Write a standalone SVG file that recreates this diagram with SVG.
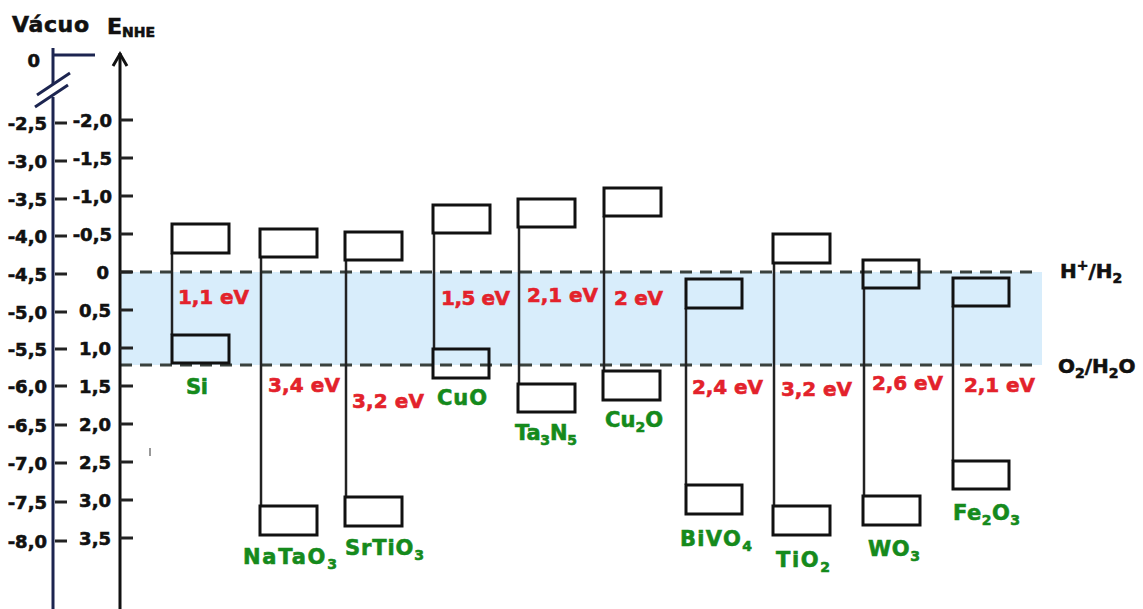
<svg xmlns="http://www.w3.org/2000/svg" width="1143" height="609" viewBox="0 0 1143 609">
<style>
text{font-family:"DejaVu Sans","Liberation Sans",sans-serif;font-weight:bold;stroke-width:0.6}
.ax{font-size:18px;fill:#111;stroke:#111;text-anchor:end}
.ttl{font-size:22px;fill:#111;stroke:#111}
.gap{font-size:20px;fill:#e3222b;stroke:#e3222b}
.mat{font-size:21px;fill:#158a1c;stroke:#158a1c}
.ref{font-size:20px;fill:#111;stroke:#111}
.box{fill:none;stroke:#111;stroke-width:3}
.vl{stroke:#222;stroke-width:2.5}
.tk{stroke:#222;stroke-width:3}
.va{stroke:#1c2550;stroke-width:3;fill:none}
.dash{stroke:#39413d;stroke-width:3;stroke-dasharray:12 8}
.sub{font-size:14px}
</style>
<rect width="1143" height="609" fill="#fff"/>
<g id="band">
<rect x="120" y="272" width="922" height="93" fill="#d8edfb"/>
<line class="dash" x1="120" y1="272" x2="1040" y2="272"/>
<line class="dash" x1="120" y1="365" x2="1040" y2="365"/>
<text class="ref" x="1060" y="278">H<tspan class="sub" dy="-8">+</tspan><tspan dy="8">/H</tspan><tspan class="sub" dy="5">2</tspan></text>
<text class="ref" x="1058" y="373">O<tspan class="sub" dy="5">2</tspan><tspan dy="-5">/H</tspan><tspan class="sub" dy="5">2</tspan><tspan dy="-5">O</tspan></text>
</g>
<g id="vacuum-axis">
<text class="ttl" x="12" y="32" textLength="77">Vácuo</text>
<line class="va" x1="53" y1="48" x2="53" y2="84"/>
<line class="va" x1="53" y1="97" x2="53" y2="609"/>
<line class="va" x1="53" y1="55" x2="95" y2="55"/>
<line class="va" x1="37" y1="95" x2="70" y2="73"/>
<line class="va" x1="35" y1="107" x2="68" y2="85"/>
<text class="ax" x="40" y="67">0</text>
<g class="tk">
<line x1="55" y1="123" x2="67" y2="123"/><line x1="55" y1="161" x2="67" y2="161"/>
<line x1="55" y1="199" x2="67" y2="199"/><line x1="55" y1="236" x2="67" y2="236"/>
<line x1="55" y1="274" x2="67" y2="274"/><line x1="55" y1="312" x2="67" y2="312"/>
<line x1="55" y1="349" x2="67" y2="349"/><line x1="55" y1="386" x2="67" y2="386"/>
<line x1="55" y1="425" x2="67" y2="425"/><line x1="55" y1="463" x2="67" y2="463"/>
<line x1="55" y1="502" x2="67" y2="502"/><line x1="55" y1="541" x2="67" y2="541"/>
</g>
<text class="ax" x="47" y="130">-2,5</text>
<text class="ax" x="47" y="168">-3,0</text>
<text class="ax" x="47" y="206">-3,5</text>
<text class="ax" x="47" y="243">-4,0</text>
<text class="ax" x="47" y="281">-4,5</text>
<text class="ax" x="47" y="319">-5,0</text>
<text class="ax" x="47" y="356">-5,5</text>
<text class="ax" x="47" y="393">-6,0</text>
<text class="ax" x="47" y="432">-6,5</text>
<text class="ax" x="47" y="470">-7,0</text>
<text class="ax" x="47" y="509">-7,5</text>
<text class="ax" x="47" y="548">-8,0</text>
</g>
<g id="nhe-axis">
<text class="ttl" x="107" y="34">E<tspan class="sub" dy="3">NHE</tspan></text>
<line x1="120" y1="53" x2="120" y2="609" stroke="#111" stroke-width="3"/>
<polyline points="113,66 120,54 127,66" fill="none" stroke="#111" stroke-width="3"/>
<g class="tk">
<line x1="120" y1="120" x2="133" y2="120"/><line x1="120" y1="158" x2="133" y2="158"/>
<line x1="120" y1="196" x2="133" y2="196"/><line x1="120" y1="234" x2="133" y2="234"/>
<line x1="120" y1="272" x2="133" y2="272"/><line x1="120" y1="310" x2="133" y2="310"/>
<line x1="120" y1="348" x2="133" y2="348"/><line x1="120" y1="386" x2="133" y2="386"/>
<line x1="120" y1="424" x2="133" y2="424"/><line x1="120" y1="462" x2="133" y2="462"/>
<line x1="120" y1="500" x2="133" y2="500"/><line x1="120" y1="538" x2="133" y2="538"/>
</g>
<text class="ax" x="112" y="127">-2,0</text>
<text class="ax" x="112" y="165">-1,5</text>
<text class="ax" x="112" y="203">-1,0</text>
<text class="ax" x="112" y="241">-0,5</text>
<text class="ax" x="109" y="279">0</text>
<text class="ax" x="111" y="317">0,5</text>
<text class="ax" x="111" y="355">1,0</text>
<text class="ax" x="111" y="393">1,5</text>
<text class="ax" x="111" y="431">2,0</text>
<text class="ax" x="111" y="469">2,5</text>
<text class="ax" x="111" y="507">3,0</text>
<text class="ax" x="111" y="545">3,5</text>
<line x1="150" y1="448" x2="150" y2="456" stroke="#999" stroke-width="2"/>
</g>
<g id="connectors">
<line class="vl" x1="172" y1="253" x2="172" y2="335"/>
<line class="vl" x1="261" y1="257" x2="261" y2="506"/>
<line class="vl" x1="346" y1="260" x2="346" y2="497"/>
<line class="vl" x1="434" y1="233" x2="434" y2="349"/>
<line class="vl" x1="519" y1="227" x2="519" y2="384"/>
<line class="vl" x1="604" y1="216" x2="604" y2="371"/>
<line class="vl" x1="686" y1="308" x2="686" y2="485"/>
<line class="vl" x1="774" y1="263" x2="774" y2="506"/>
<line class="vl" x1="864" y1="288" x2="864" y2="496"/>
<line class="vl" x1="953" y1="306" x2="953" y2="461"/>
</g>
<g id="Si">
<rect class="box" x="172" y="224" width="57" height="29"/>
<rect class="box" x="172" y="335" width="57" height="28"/>
<text class="gap" x="178" y="304" textLength="71">1,1 eV</text>
<text class="mat" x="186" y="394" textLength="22">Si</text>
</g>
<g id="NaTaO3">
<rect class="box" x="260" y="229" width="57" height="28"/>
<rect class="box" x="260" y="506" width="57" height="29"/>
<text class="gap" x="268" y="392" textLength="72">3,4 eV</text>
<text class="mat" x="243" y="564" textLength="94">NaTaO<tspan class="sub" dy="5">3</tspan></text>
</g>
<g id="SrTiO3">
<rect class="box" x="345" y="232" width="57" height="28"/>
<rect class="box" x="345" y="497" width="57" height="29"/>
<text class="gap" x="352" y="408" textLength="72">3,2 eV</text>
<text class="mat" x="345" y="555" textLength="79">SrTiO<tspan class="sub" dy="5">3</tspan></text>
</g>
<g id="CuO">
<rect class="box" x="433" y="205" width="57" height="28"/>
<rect class="box" x="433" y="349" width="56" height="29"/>
<text class="gap" x="441" y="305" textLength="69">1,5 eV</text>
<text class="mat" x="437" y="405" textLength="50">CuO</text>
</g>
<g id="Ta3N5">
<rect class="box" x="518" y="199" width="57" height="28"/>
<rect class="box" x="518" y="384" width="57" height="28"/>
<text class="gap" x="527" y="302" textLength="71">2,1 eV</text>
<text class="mat" x="515" y="440" textLength="62">Ta<tspan class="sub" dy="5">3</tspan><tspan dy="-5">N</tspan><tspan class="sub" dy="5">5</tspan></text>
</g>
<g id="Cu2O">
<rect class="box" x="604" y="188" width="57" height="28"/>
<rect class="box" x="603" y="371" width="57" height="29"/>
<text class="gap" x="614" y="305" textLength="49">2 eV</text>
<text class="mat" x="605" y="427" textLength="58">Cu<tspan class="sub" dy="5">2</tspan><tspan dy="-5">O</tspan></text>
</g>
<g id="BiVO4">
<rect class="box" x="686" y="279" width="56" height="29"/>
<rect class="box" x="686" y="485" width="56" height="29"/>
<text class="gap" x="692" y="394" textLength="71">2,4 eV</text>
<text class="mat" x="680" y="546" textLength="72">BiVO<tspan class="sub" dy="5">4</tspan></text>
</g>
<g id="TiO2">
<rect class="box" x="773" y="234" width="57" height="29"/>
<rect class="box" x="773" y="506" width="57" height="29"/>
<text class="gap" x="781" y="396" textLength="71">3,2 eV</text>
<text class="mat" x="776" y="567" textLength="54">TiO<tspan class="sub" dy="5">2</tspan></text>
</g>
<g id="WO3">
<rect class="box" x="863" y="260" width="56" height="28"/>
<rect class="box" x="863" y="496" width="57" height="29"/>
<text class="gap" x="872" y="390" textLength="71">2,6 eV</text>
<text class="mat" x="868" y="556" textLength="52">WO<tspan class="sub" dy="5">3</tspan></text>
</g>
<g id="Fe2O3">
<rect class="box" x="953" y="278" width="56" height="28"/>
<rect class="box" x="953" y="461" width="56" height="28"/>
<text class="gap" x="964" y="392" textLength="71">2,1 eV</text>
<text class="mat" x="953" y="520" textLength="67">Fe<tspan class="sub" dy="5">2</tspan><tspan dy="-5">O</tspan><tspan class="sub" dy="5">3</tspan></text>
</g>
</svg>
